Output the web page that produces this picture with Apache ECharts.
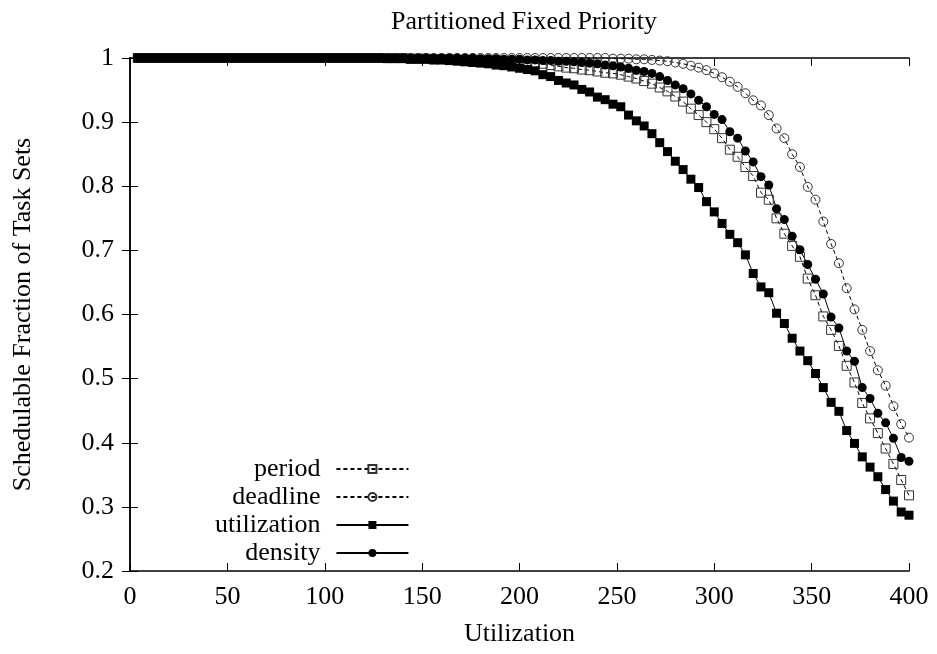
<!DOCTYPE html>
<html>
<head>
<meta charset="utf-8">
<title>Partitioned Fixed Priority</title>
<script src="https://cdn.jsdelivr.net/npm/echarts@6/dist/echarts.min.js"></script>
<style>
  html, body { margin: 0; padding: 0; background: #fff; }
  #chart { width: 937px; height: 654px; }
</style>
</head>
<body>
<div id="chart"></div>
<script>
// Total utilization of the generated task sets (x samples)
const utilization = [
  4, 8, 12, 16, 20, 24, 28, 32, 36, 40,
  44, 48, 52, 56, 60, 64, 68, 72, 76, 80,
  84, 88, 92, 96, 100, 104, 108, 112, 116, 120,
  124, 128, 132, 136, 140, 144, 148, 152, 156, 160,
  164, 168, 172, 176, 180, 184, 188, 192, 196, 200,
  204, 208, 212, 216, 220, 224, 228, 232, 236, 240,
  244, 248, 252, 256, 260, 264, 268, 272, 276, 280,
  284, 288, 292, 296, 300, 304, 308, 312, 316, 320,
  324, 328, 332, 336, 340, 344, 348, 352, 356, 360,
  364, 368, 372, 376, 380, 384, 388, 392, 396, 400
];

// Schedulable fraction per priority-ordering heuristic
const periodOrder = [
  1, 1, 1, 1, 1, 1, 1, 1, 1, 1,
  1, 1, 1, 1, 1, 1, 1, 1, 1, 1,
  1, 1, 1, 1, 1, 1, 1, 1, 1, 1,
  1, 1, 1, 1, 1, 0.999, 0.999, 0.999, 0.998, 0.998,
  0.998, 0.997, 0.997, 0.996, 0.996, 0.995, 0.995, 0.994, 0.994, 0.993,
  0.993, 0.992, 0.991, 0.989, 0.987, 0.985, 0.984, 0.982, 0.981, 0.979,
  0.977, 0.976, 0.974, 0.971, 0.968, 0.964, 0.960, 0.954, 0.948, 0.940,
  0.932, 0.921, 0.911, 0.900, 0.889, 0.875, 0.857, 0.846, 0.830, 0.816,
  0.790, 0.779, 0.750, 0.726, 0.707, 0.690, 0.656, 0.630, 0.597, 0.576,
  0.551, 0.520, 0.494, 0.462, 0.438, 0.415, 0.391, 0.367, 0.342, 0.318
];

const deadlineOrder = [
  1, 1, 1, 1, 1, 1, 1, 1, 1, 1,
  1, 1, 1, 1, 1, 1, 1, 1, 1, 1,
  1, 1, 1, 1, 1, 1, 1, 1, 1, 1,
  1, 1, 1, 1, 1, 1, 1, 1, 1, 1,
  1, 1, 1, 1, 1, 1, 1, 1, 1, 1,
  1, 1, 1, 1, 1, 1, 1, 1, 1, 1,
  1, 0.999, 0.999, 0.999, 0.998, 0.998, 0.997, 0.996, 0.995, 0.993,
  0.991, 0.988, 0.985, 0.981, 0.976, 0.970, 0.963, 0.955, 0.945, 0.934,
  0.926, 0.911, 0.890, 0.875, 0.850, 0.830, 0.799, 0.779, 0.745, 0.710,
  0.680, 0.641, 0.608, 0.576, 0.543, 0.513, 0.489, 0.457, 0.429, 0.408
];

const utilizationOrder = [
  1, 1, 1, 1, 1, 1, 1, 1, 1, 1,
  1, 1, 1, 1, 1, 1, 1, 1, 1, 1,
  1, 1, 1, 1, 1, 1, 1, 1, 1, 1,
  1, 1, 0.999, 0.999, 0.999, 0.998, 0.998, 0.998, 0.997, 0.997,
  0.996, 0.995, 0.994, 0.993, 0.992, 0.991, 0.989, 0.988, 0.986, 0.984,
  0.982, 0.980, 0.974, 0.971, 0.965, 0.961, 0.958, 0.951, 0.947, 0.939,
  0.935, 0.928, 0.924, 0.911, 0.902, 0.894, 0.882, 0.868, 0.854, 0.839,
  0.826, 0.811, 0.798, 0.776, 0.760, 0.742, 0.725, 0.712, 0.693, 0.664,
  0.643, 0.634, 0.602, 0.586, 0.563, 0.543, 0.528, 0.508, 0.486, 0.463,
  0.449, 0.419, 0.399, 0.378, 0.362, 0.347, 0.327, 0.309, 0.292, 0.287
];

const densityOrder = [
  1, 1, 1, 1, 1, 1, 1, 1, 1, 1,
  1, 1, 1, 1, 1, 1, 1, 1, 1, 1,
  1, 1, 1, 1, 1, 1, 1, 1, 1, 1,
  1, 1, 1, 1, 1, 1, 1, 1, 1, 1,
  1, 1, 1, 1, 0.999, 0.999, 0.999, 0.998, 0.998, 0.998,
  0.997, 0.997, 0.996, 0.996, 0.995, 0.995, 0.994, 0.993, 0.992, 0.991,
  0.989, 0.988, 0.986, 0.984, 0.981, 0.979, 0.976, 0.971, 0.965, 0.958,
  0.952, 0.944, 0.934, 0.924, 0.912, 0.904, 0.885, 0.875, 0.855, 0.838,
  0.815, 0.802, 0.765, 0.748, 0.722, 0.701, 0.678, 0.655, 0.632, 0.596,
  0.579, 0.543, 0.527, 0.486, 0.469, 0.446, 0.431, 0.407, 0.377, 0.371
];

const seriesNames = ['period', 'deadline', 'utilization', 'density'];

const FONT = 'Liberation Serif';
const pairs = ys => utilization.map((x, i) => [x, ys[i]]);

const axisLine = { show: true, lineStyle: { color: '#000', width: 1.5 } };
const innerTick = { show: true, inside: true, length: 8, lineStyle: { color: '#000', width: 1 } };
const tickFont = { color: '#000', fontFamily: FONT, fontSize: 26 };

function lineSeries(name, ys, symbol, hollow, dashed) {
  return {
    name,
    type: 'line',
    data: pairs(ys),
    symbol,
    symbolSize: 9,
    showSymbol: true,
    showAllSymbol: true,
    clip: false,
    animation: false,
    lineStyle: { color: '#000', width: 1, type: dashed ? [4, 3] : 'solid' },
    itemStyle: hollow
      ? { color: 'rgba(255,255,255,0)', borderColor: '#333', borderWidth: 1 }
      : { color: '#000', borderWidth: 0 },
    emphasis: { disabled: true }
  };
}

const chart = echarts.init(document.getElementById('chart'), null, { renderer: 'canvas' });
chart.setOption({
  backgroundColor: '#fff',
  animation: false,
  title: {
    text: 'Partitioned Fixed Priority',
    left: 519,
    textAlign: 'center',
    top: 4,
    textStyle: { color: '#000', fontFamily: FONT, fontSize: 26, fontWeight: 'normal' }
  },
  grid: { left: 130, right: 28, top: 58, bottom: 83 },
  legend: {
    data: seriesNames,
    orient: 'vertical',
    align: 'right',
    left: 215,
    top: 456,
    padding: 0,
    itemWidth: 72,
    itemHeight: 10,
    itemGap: 2,
    selectedMode: false,
    textStyle: { color: '#000', fontFamily: FONT, fontSize: 26, padding: [0, 11, 0, 0] }
  },
  xAxis: [
    {
      type: 'value', min: 0, max: 400, interval: 50,
      name: 'Utilization', nameLocation: 'middle', nameGap: 50,
      nameTextStyle: { color: '#000', fontFamily: FONT, fontSize: 26 },
      axisLine, axisTick: innerTick,
      axisLabel: Object.assign({ margin: 13 }, tickFont),
      splitLine: { show: false }
    },
    {
      type: 'value', min: 0, max: 400, interval: 50, position: 'top',
      axisLine, axisTick: innerTick, axisLabel: { show: false }, splitLine: { show: false }
    }
  ],
  yAxis: [
    {
      type: 'value', min: 0.2, max: 1, interval: 0.1,
      name: 'Schedulable Fraction of Task Sets', nameLocation: 'middle', nameGap: 94,
      nameTextStyle: { color: '#000', fontFamily: FONT, fontSize: 26 },
      axisLine, axisTick: innerTick,
      axisLabel: Object.assign({ margin: 16 }, tickFont),
      splitLine: { show: false }
    },
    {
      type: 'value', min: 0.2, max: 1, interval: 0.1, position: 'right',
      axisLine, axisTick: innerTick, axisLabel: { show: false }, splitLine: { show: false }
    }
  ],
  series: [
    lineSeries('period', periodOrder, 'rect', true, true),
    lineSeries('deadline', deadlineOrder, 'circle', true, true),
    lineSeries('utilization', utilizationOrder, 'rect', false, false),
    lineSeries('density', densityOrder, 'circle', false, false)
  ]
});
</script>
</body>
</html>
